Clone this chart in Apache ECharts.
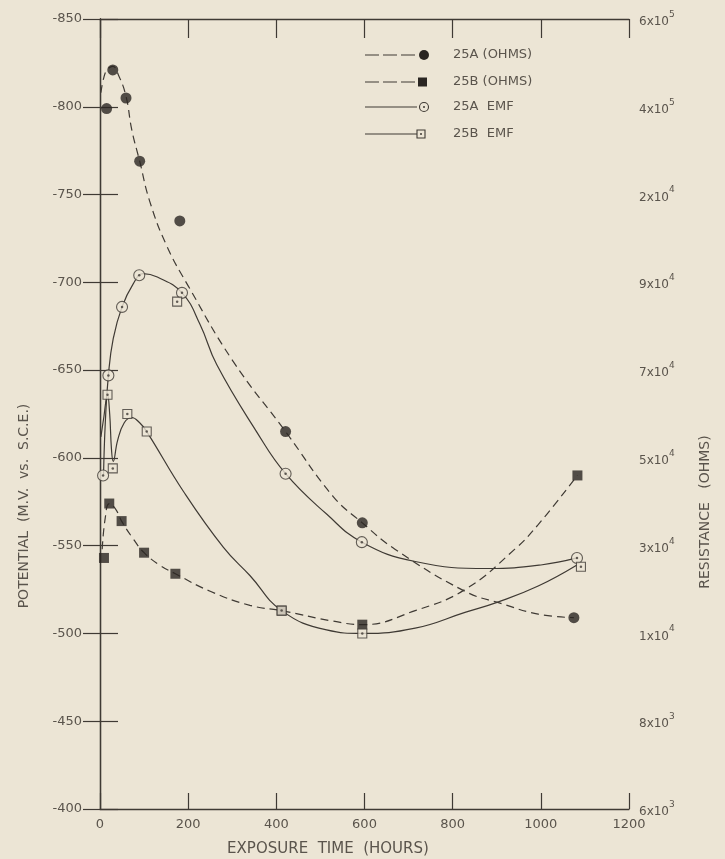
<!DOCTYPE html>
<html>
<head>
<meta charset="utf-8">
<script src="https://cdn.jsdelivr.net/npm/echarts@6/dist/echarts.min.js"></script>
<style>
  html, body { margin: 0; padding: 0; background: #ece5d5; }
  #chart { width: 725px; height: 859px; }
</style>
</head>
<body>
<div id="chart"></div>
<script>
const BG = "#ece5d5";
const INK = "#3f3a34";
const TEXT = "#5a544c";
const FONT = "DejaVu Sans";

// ticks
const xTicks = [0, 200, 400, 600, 800, 1000, 1200];
const yMin = -850, yMax = -400, yStep = 50;
const resMantissa = ["6", "4", "2", "9", "7", "5", "3", "1", "8", "6"];
const resExponent = ["5", "5", "4", "4", "4", "4", "4", "4", "3", "3"];

// measured points (hours, potential mV)
const aOhmsX = [15, 29, 59, 90, 181, 421, 595, 1075];
const aOhmsY = [-799, -821, -805, -769, -735, -615, -563, -509];
const bOhmsX = [9, 21, 49, 100, 171, 412, 595, 1083];
const bOhmsY = [-543, -574, -564, -546, -534, -513, -505, -590];
const aEmfX = [7, 19, 50, 89, 186, 421, 594, 1082];
const aEmfY = [-590, -647, -686, -704, -694, -591, -552, -543];
const bEmfX = [17, 29, 62, 106, 175, 412, 595, 1091];
const bEmfY = [-636, -594, -625, -615, -689, -513, -500, -538];

// hand-drawn fitted curves
const aOhmsCurve = [[2, -808], [8, -816], [16, -821], [29, -823], [42, -818], [59, -806], [72, -787],
  [90, -769], [113, -746], [151, -721], [200, -698], [302, -655], [421, -615], [529, -578],
  [595, -563], [669, -548], [828, -524], [911, -517], [994, -511], [1075, -509]];
const bOhmsCurve = [[5, -548], [12, -566], [21, -574], [35, -571], [49, -564], [75, -554], [100, -546],
  [135, -539], [171, -534], [250, -524], [340, -516], [412, -513], [529, -507], [595, -505],
  [715, -513], [828, -525], [941, -548], [994, -562], [1083, -590]];
const aEmfCurve = [[8, -590], [12, -620], [19, -647], [30, -668], [50, -686], [75, -699], [98, -705],
  [130, -703], [186, -694], [227, -676], [265, -653], [355, -615], [421, -591], [514, -568],
  [594, -552], [715, -541], [881, -537], [1000, -539], [1082, -543]];
const bEmfCurve = [[2, -612], [8, -622], [17, -636], [22, -625], [26, -605], [30, -598], [40, -610],
  [55, -620], [72, -623], [90, -620], [106, -615], [189, -581], [280, -549], [340, -533],
  [412, -513], [514, -502], [595, -500], [715, -503], [828, -512], [904, -518], [994, -527],
  [1082, -539]];

const legendNames = ["25A (OHMS)", "25B (OHMS)", "25A  EMF", "25B  EMF"];

const zip = (xs, ys) => xs.map((x, i) => [x, ys[i]]);

const chart = echarts.init(document.getElementById("chart"), null, { renderer: "canvas" });

function curve(data, dashed) {
  return {
    type: "line", data, smooth: 0.45, showSymbol: false, silent: true, z: 2,
    lineStyle: { color: INK, width: 1.2, type: dashed ? [8, 5] : "solid" },
  };
}

function points(data, symbol, size, filled) {
  return {
    type: "scatter", data, symbol, symbolSize: size, z: 5, silent: true,
    itemStyle: filled
      ? { color: "#2a2622" }
      : { color: BG, borderColor: INK, borderWidth: 1.1 },
  };
}

function centreDots(data) {
  return {
    type: "scatter", data, symbol: "circle", symbolSize: 2.5, z: 6, silent: true,
    itemStyle: { color: INK },
  };
}

// legend drawn by hand: line sample with marker at its end
const legendRows = [55, 82, 107, 134];
const legendGraphics = [];
legendRows.forEach((y, i) => {
  legendGraphics.push({
    type: "line", shape: { x1: 365, y1: y, x2: 417, y2: y },
    style: { stroke: INK, lineWidth: 1.2, lineDash: i < 2 ? [14, 4] : null },
  });
  if (i === 0) legendGraphics.push({ type: "circle", shape: { cx: 424, cy: y, r: 5 }, style: { fill: "#2a2622" } });
  if (i === 1) legendGraphics.push({ type: "rect", shape: { x: 418, y: y - 4.5, width: 9, height: 9 }, style: { fill: "#2a2622" } });
  if (i === 2) {
    legendGraphics.push({ type: "circle", shape: { cx: 424, cy: y, r: 4.5 }, style: { fill: BG, stroke: INK, lineWidth: 1.1 } });
    legendGraphics.push({ type: "circle", shape: { cx: 424, cy: y, r: 1 }, style: { fill: INK } });
  }
  if (i === 3) {
    legendGraphics.push({ type: "rect", shape: { x: 417, y: y - 4, width: 8, height: 8 }, style: { fill: BG, stroke: INK, lineWidth: 1.1 } });
    legendGraphics.push({ type: "circle", shape: { cx: 421, cy: y, r: 1 }, style: { fill: INK } });
  }
  legendGraphics.push({
    type: "text", x: 453, y,
    style: { text: legendNames[i], font: `13px "${FONT}"`, fill: TEXT, verticalAlign: "middle" },
  });
});

const titles = [
  { type: "text", x: 24, y: 506, rotation: Math.PI / 2,
    style: { text: "POTENTIAL  (M.V.  vs.  S.C.E.)", font: `14px "${FONT}"`, fill: TEXT, align: "center", verticalAlign: "middle" } },
  { type: "text", x: 705, y: 512, rotation: Math.PI / 2,
    style: { text: "RESISTANCE   (OHMS)", font: `14px "${FONT}"`, fill: TEXT, align: "center", verticalAlign: "middle" } },
  { type: "text", x: 328, y: 849,
    style: { text: "EXPOSURE  TIME  (HOURS)", font: `15px "${FONT}"`, fill: TEXT, align: "center", verticalAlign: "middle" } },
];

const axisLine = { show: true, lineStyle: { color: INK, width: 1.3 } };
const label = { color: TEXT, fontFamily: FONT, fontSize: 13 };

chart.setOption({
  backgroundColor: BG,
  animation: false,
  grid: { left: 100, right: 96, top: 19, bottom: 50, containLabel: false, outerBoundsMode: "none" },
  xAxis: [
    {
      type: "value", min: xTicks[0], max: xTicks[xTicks.length - 1], interval: 200,
      axisLine, splitLine: { show: false },
      axisTick: { inside: true, length: 16, lineStyle: { color: INK, width: 1.2 } },
      axisLabel: { ...label, margin: 9, formatter: (v) => String(v) },
    },
    {
      type: "value", position: "top", min: xTicks[0], max: xTicks[xTicks.length - 1], interval: 200,
      axisLine, splitLine: { show: false },
      axisTick: { inside: true, length: 19, lineStyle: { color: INK, width: 1.2 } },
      axisLabel: { show: false },
    },
  ],
  yAxis: [
    {
      type: "value", inverse: true, min: yMin, max: yMax, interval: yStep,
      axisLine, splitLine: { show: false },
      axisTick: { inside: true, length: 18, lineStyle: { color: INK, width: 1.2 } },
      axisLabel: { ...label, margin: 18 },
    },
    {
      type: "value", position: "right", inverse: true, min: yMin, max: yMax, interval: yStep,
      axisLine, splitLine: { show: false },
      axisTick: { inside: true, length: 17, lineStyle: { color: INK, width: 1.2 } },
      axisLabel: {
        color: TEXT, fontFamily: FONT, margin: 10,
        formatter: (v) => {
          const i = Math.round((v - yMin) / yStep);
          return `{m|${resMantissa[i]}x10}{e|${resExponent[i]}}`;
        },
        rich: {
          m: { fontSize: 12, fontFamily: FONT, color: TEXT, lineHeight: 18, verticalAlign: "bottom" },
          e: { fontSize: 9, fontFamily: FONT, color: TEXT, lineHeight: 18, verticalAlign: "top" },
        },
      },
    },
  ],
  series: [
    curve(aOhmsCurve, true),
    curve(bOhmsCurve, true),
    curve(aEmfCurve, false),
    curve(bEmfCurve, false),
    points(zip(aOhmsX, aOhmsY), "circle", 11, true),
    points(zip(bOhmsX, bOhmsY), "rect", 10, true),
    points(zip(aEmfX, aEmfY), "circle", 11, false),
    points(zip(bEmfX, bEmfY), "rect", 9, false),
    centreDots(zip(aEmfX, aEmfY)),
    centreDots(zip(bEmfX, bEmfY)),
  ],
  graphic: [...legendGraphics, ...titles],
});
</script>
</body>
</html>
